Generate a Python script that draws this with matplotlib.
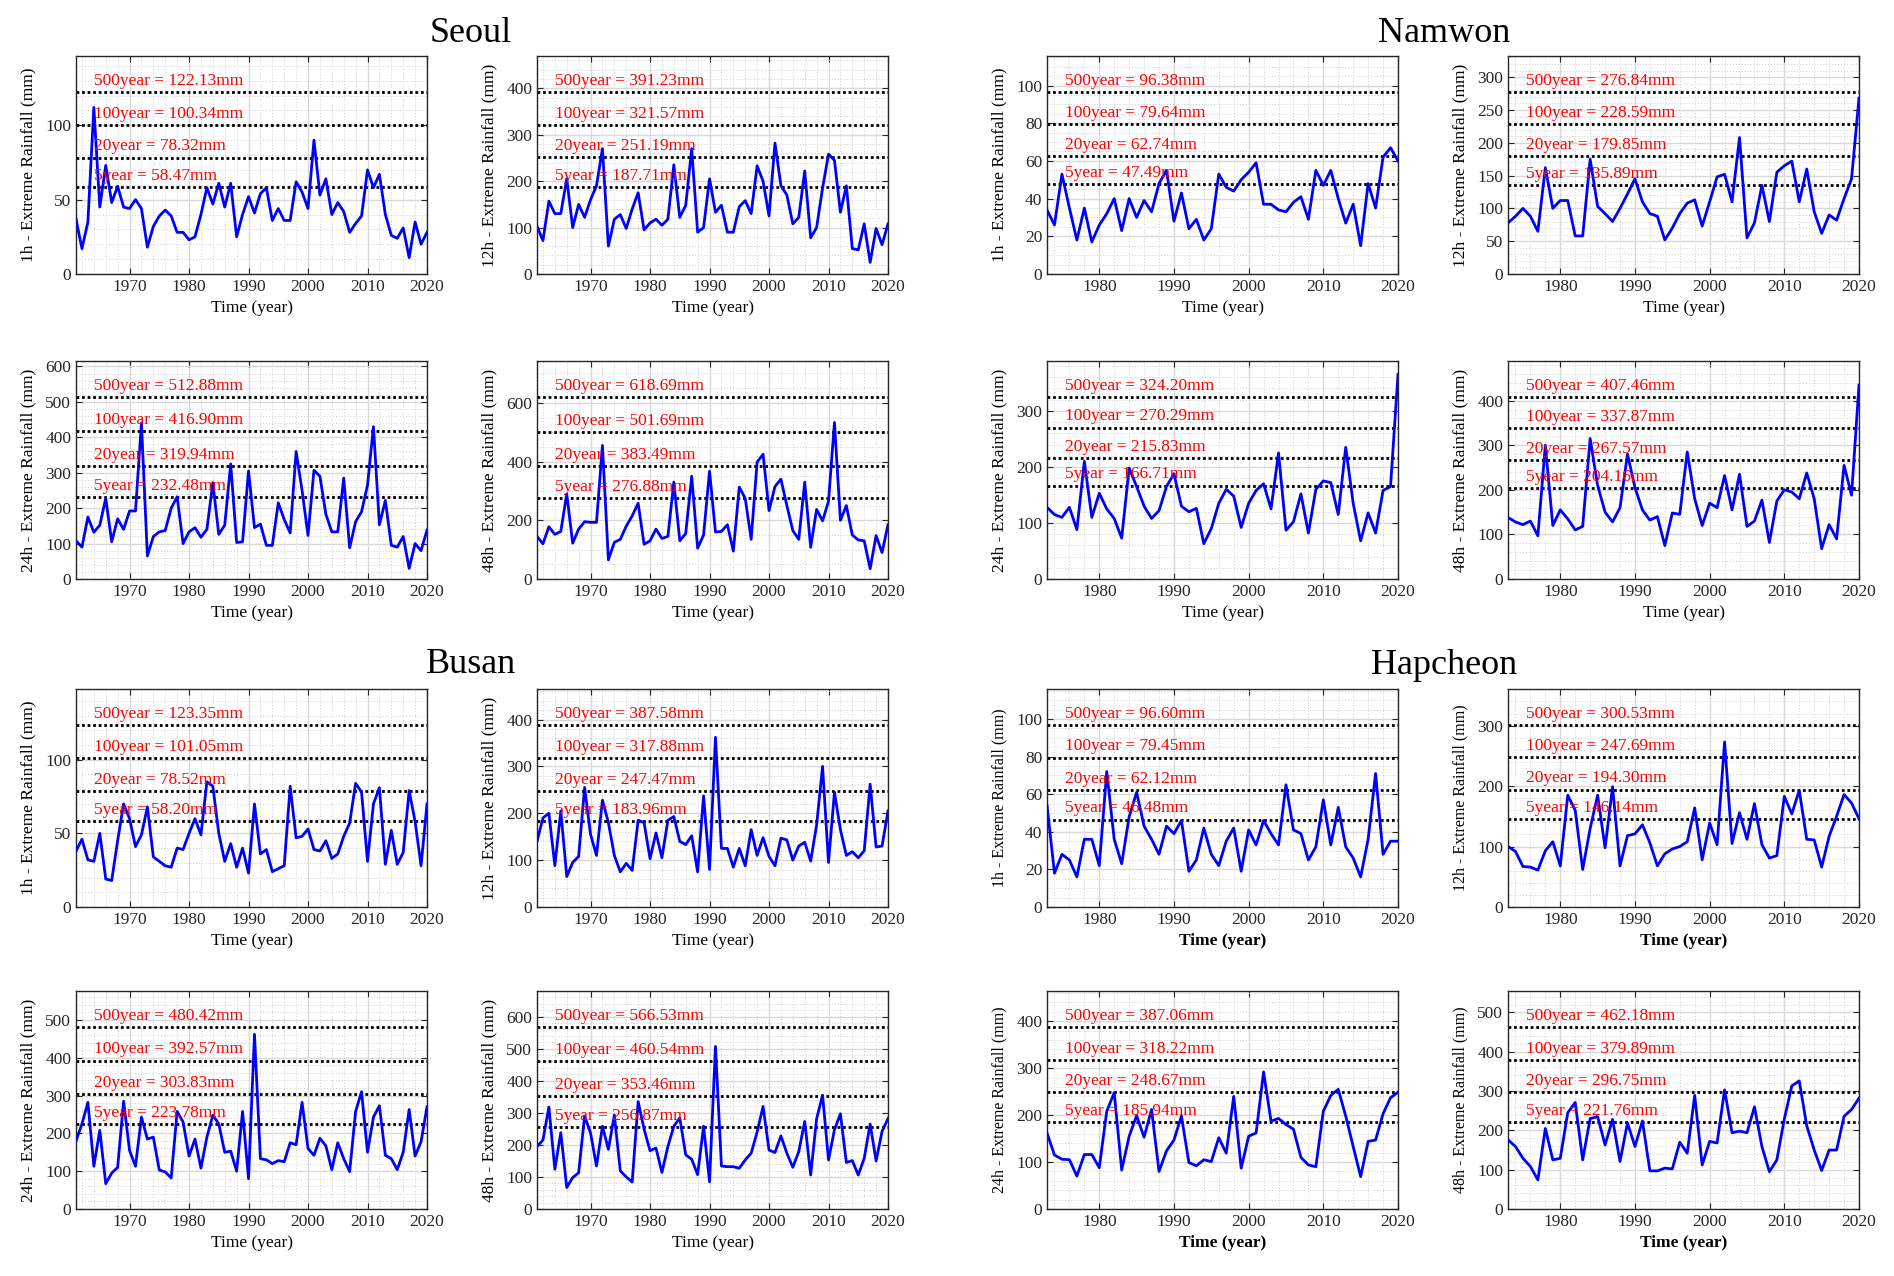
import matplotlib
matplotlib.use("Agg")
import matplotlib.pyplot as plt
from matplotlib.ticker import MultipleLocator, AutoMinorLocator

plt.rcParams['font.family'] = ['Liberation Serif', 'DejaVu Serif']

# ---------------- data ----------------
cities = ["Seoul", "Namwon", "Busan", "Hapcheon"]
durations = ["1h", "12h", "24h", "48h"]

years_long = list(range(1961, 2021))   # Seoul, Busan
years_short = list(range(1973, 2021))  # Namwon, Hapcheon

seoul_1h = [37, 17, 35, 112, 45, 73, 48, 59, 45, 44, 50, 44, 18, 32, 39, 43, 39, 28, 28, 23,
            25, 40, 58, 47, 61, 45, 61, 25, 40, 52, 41, 54, 58, 36, 44, 36, 36, 62, 55, 44,
            90, 53, 64, 40, 48, 42, 28, 34, 39, 70, 58, 67, 40, 26, 24, 31, 11, 35, 20, 28]
seoul_12h = [103, 72, 157, 130, 130, 205, 100, 150, 122, 160, 190, 270, 60, 118, 128, 98, 140, 175, 95, 110,
             118, 105, 118, 235, 122, 148, 270, 90, 100, 205, 133, 148, 90, 90, 145, 158, 130, 233, 200, 125,
             282, 190, 170, 108, 122, 222, 78, 100, 185, 258, 245, 133, 190, 55, 52, 108, 25, 98, 63, 108]
seoul_24h = [108, 90, 175, 132, 152, 228, 105, 170, 140, 192, 192, 440, 65, 120, 133, 137, 200, 232, 100, 133,
             145, 118, 140, 272, 126, 152, 325, 103, 105, 305, 145, 155, 95, 95, 215, 168, 130, 360, 250, 123,
             307, 290, 183, 133, 133, 285, 88, 162, 190, 265, 430, 153, 222, 95, 90, 120, 30, 100, 80, 138]
seoul_48h = [145, 120, 178, 152, 162, 290, 122, 170, 195, 193, 193, 455, 65, 125, 135, 180, 215, 258, 118, 130,
             170, 138, 145, 330, 130, 155, 350, 105, 150, 367, 160, 162, 185, 95, 313, 275, 135, 398, 425, 233,
             315, 340, 250, 165, 135, 330, 108, 237, 198, 265, 533, 200, 250, 150, 133, 130, 35, 148, 90, 185]

namwon_1h = [34, 26, 53, 35, 18, 35, 17, 26,
             32, 40, 23, 40, 30, 39, 33, 48, 55, 28, 43, 24, 29, 18, 24, 53, 46, 44, 50, 54,
             59, 37, 37, 34, 33, 38, 41, 29, 55, 47, 55, 40, 27, 37, 15, 48, 35, 62, 67, 60]
namwon_12h = [78, 88, 100, 88, 65, 162, 100, 112,
              112, 58, 58, 175, 103, 92, 80, 100, 122, 145, 110, 92, 88, 52, 70, 92, 108, 113, 73, 110,
              148, 152, 110, 208, 55, 78, 135, 80, 155, 165, 172, 110, 160, 95, 62, 90, 82, 115, 145, 268]
namwon_24h = [128, 115, 110, 128, 88, 210, 110, 153,
              125, 108, 73, 198, 165, 130, 108, 122, 165, 188, 130, 120, 126, 63, 90, 135, 160, 148, 92, 135,
              158, 170, 125, 225, 87, 102, 152, 82, 160, 175, 172, 115, 235, 135, 68, 118, 82, 158, 165, 365]
namwon_48h = [138, 128, 122, 130, 97, 300, 120, 155,
              135, 110, 118, 315, 210, 150, 128, 160, 280, 205, 155, 132, 140, 75, 148, 145, 285, 180, 120, 170,
              160, 232, 155, 235, 118, 130, 177, 82, 175, 200, 195, 180, 238, 180, 68, 122, 90, 255, 188, 435]

busan_1h = [38, 46, 32, 31, 50, 19, 18, 45, 70, 60, 41, 49, 68, 34, 31, 28, 27, 40, 39, 50,
            60, 49, 85, 82, 50, 31, 43, 27, 40, 23, 70, 36, 39, 24, 26, 28, 82, 47, 48, 53,
            39, 38, 45, 33, 36, 48, 57, 84, 78, 31, 70, 81, 29, 52, 29, 37, 79, 58, 28, 70]
busan_12h = [140, 190, 200, 88, 205, 65, 95, 108, 255, 155, 110, 228, 180, 110, 75, 93, 78, 185, 180, 103,
             158, 105, 185, 193, 140, 133, 152, 75, 237, 80, 362, 125, 125, 85, 125, 88, 165, 110, 148, 108,
             88, 147, 143, 100, 130, 138, 98, 175, 300, 95, 245, 165, 110, 118, 105, 120, 262, 128, 130, 205]
busan_24h = [180, 225, 282, 113, 208, 67, 95, 110, 285, 155, 113, 243, 185, 190, 103, 98, 82, 258, 230, 140,
             185, 108, 190, 248, 225, 150, 153, 100, 258, 80, 462, 133, 130, 120, 128, 125, 175, 170, 282, 160,
             142, 187, 167, 104, 175, 133, 99, 258, 310, 150, 243, 273, 142, 133, 104, 150, 263, 140, 178, 270]
busan_48h = [195, 215, 318, 124, 238, 67, 98, 113, 290, 237, 134, 258, 186, 293, 119, 100, 84, 335, 249, 182,
             190, 114, 195, 258, 284, 169, 155, 107, 258, 85, 507, 134, 132, 132, 127, 153, 174, 240, 320, 184,
             176, 228, 174, 130, 179, 273, 106, 281, 355, 153, 247, 297, 145, 151, 106, 158, 265, 150, 242, 282]

hapcheon_1h = [54, 18, 28, 25, 16, 36, 36, 22,
               72, 36, 23, 48, 61, 43, 36, 28, 43, 39, 46, 19, 25, 42, 28, 22, 35, 42, 19, 41,
               33, 46, 39, 33, 65, 41, 39, 25, 32, 57, 33, 53, 32, 26, 16, 36, 71, 28, 35, 35]
hapcheon_12h = [100, 92, 67, 66, 61, 93, 108, 68,
                185, 160, 62, 130, 185, 98, 199, 68, 118, 121, 136, 106, 68, 88, 96, 100, 108, 164, 78, 139,
                103, 273, 105, 156, 112, 171, 103, 81, 85, 183, 154, 193, 112, 111, 66, 117, 150, 186, 172, 146]
hapcheon_24h = [162, 115, 106, 105, 70, 116, 116, 88,
                208, 248, 83, 155, 199, 153, 212, 80, 124, 147, 198, 99, 92, 105, 101, 152, 119, 240, 87, 155,
                162, 292, 187, 193, 180, 170, 110, 94, 90, 208, 242, 255, 198, 133, 69, 144, 147, 203, 237, 249]
hapcheon_48h = [176, 159, 129, 108, 74, 205, 125, 129,
                245, 271, 125, 230, 235, 163, 228, 121, 219, 159, 224, 97, 97, 104, 102, 170, 142, 289, 112, 172,
                168, 303, 194, 198, 194, 260, 159, 95, 125, 229, 313, 326, 212, 150, 98, 150, 150, 236, 253, 282]

return_periods = ["500year", "100year", "20year", "5year"]
seoul_rl = [[122.13, 100.34, 78.32, 58.47], [391.23, 321.57, 251.19, 187.71],
            [512.88, 416.90, 319.94, 232.48], [618.69, 501.69, 383.49, 276.88]]
namwon_rl = [[96.38, 79.64, 62.74, 47.49], [276.84, 228.59, 179.85, 135.89],
             [324.20, 270.29, 215.83, 166.71], [407.46, 337.87, 267.57, 204.16]]
busan_rl = [[123.35, 101.05, 78.52, 58.20], [387.58, 317.88, 247.47, 183.96],
            [480.42, 392.57, 303.83, 223.78], [566.53, 460.54, 353.46, 256.87]]
hapcheon_rl = [[96.60, 79.45, 62.12, 46.48], [300.53, 247.69, 194.30, 146.14],
               [387.06, 318.22, 248.67, 185.94], [462.18, 379.89, 296.75, 221.76]]

series = {
    "Seoul": (years_long, [seoul_1h, seoul_12h, seoul_24h, seoul_48h], seoul_rl),
    "Namwon": (years_short, [namwon_1h, namwon_12h, namwon_24h, namwon_48h], namwon_rl),
    "Busan": (years_long, [busan_1h, busan_12h, busan_24h, busan_48h], busan_rl),
    "Hapcheon": (years_short, [hapcheon_1h, hapcheon_12h, hapcheon_24h, hapcheon_48h], hapcheon_rl),
}
ytick_steps = {"Seoul": [50, 100, 100, 200], "Namwon": [20, 50, 100, 100],
               "Busan": [50, 100, 100, 100], "Hapcheon": [20, 100, 100, 100]}

# ---------------- layout (pixels) ----------------
W, H = 1894, 1276
col_left = [76, 537, 1047, 1508]
row_top = [56, 361, 689, 991]
aw, ah = 351, 218
title_pos = {"Seoul": (471, 33), "Namwon": (1444, 33), "Busan": (471, 664), "Hapcheon": (1444, 666)}

fig = plt.figure(figsize=(W / 100, H / 100), dpi=100)

for ci, city in enumerate(cities):
    years, data_list, rl_list = series[city]
    hap = city == "Hapcheon"
    for di, dur in enumerate(durations):
        c = 2 * (ci % 2) + di % 2
        r = 2 * (ci // 2) + di // 2
        ax = fig.add_axes([col_left[c] / W, 1 - (row_top[r] + ah) / H, aw / W, ah / H])
        vals = data_list[di]
        rls = rl_list[di]
        ymax = 1.2 * rls[0]
        ax.set_xlim(years[0], years[-1])
        ax.set_ylim(0, ymax)
        ax.xaxis.set_major_locator(MultipleLocator(10))
        ax.xaxis.set_minor_locator(MultipleLocator(2))
        ax.yaxis.set_major_locator(MultipleLocator(ytick_steps[city][di]))
        ax.yaxis.set_minor_locator(AutoMinorLocator())
        ax.grid(which='major', color='#d9d9d9', linewidth=1.0, linestyle='-')
        ax.grid(which='minor', color='#cfcfcf', linewidth=0.7, linestyle=(0, (1, 2)))
        ax.set_axisbelow(True)
        for rp, v in zip(return_periods, rls):
            ax.axhline(v, color='black', linestyle=(0, (1, 1)), linewidth=2.0, zorder=2)
            ax.annotate(f"{rp} = {v:.2f}mm", xy=(0.05, v), xycoords=('axes fraction', 'data'),
                        xytext=(0, 8), textcoords='offset points', va='center', ha='left',
                        color='red', fontsize=12.5, zorder=4)
        ax.plot(years, vals, color='blue', linewidth=2.0, zorder=3)
        ax.tick_params(which='both', direction='in', top=True, right=True, labelsize=12.5,
                       colors='#262626')
        ax.tick_params(which='major', length=4)
        ax.tick_params(which='minor', length=0)
        for sp in ax.spines.values():
            sp.set_color('#262626')
            sp.set_linewidth(1.0)
        ax.set_xlabel("Time (year)", fontsize=12.5, labelpad=4,
                      fontweight='bold' if hap else 'normal')
        ax.set_ylabel(f"{dur} - Extreme Rainfall (mm)", fontsize=11.5 if hap else 12.5, labelpad=6)
    tx, ty = title_pos[city]
    fig.text(tx / W, 1 - ty / H, city, fontsize=26, ha='center', va='center')

fig.savefig("out.png", dpi=100, facecolor='white')
